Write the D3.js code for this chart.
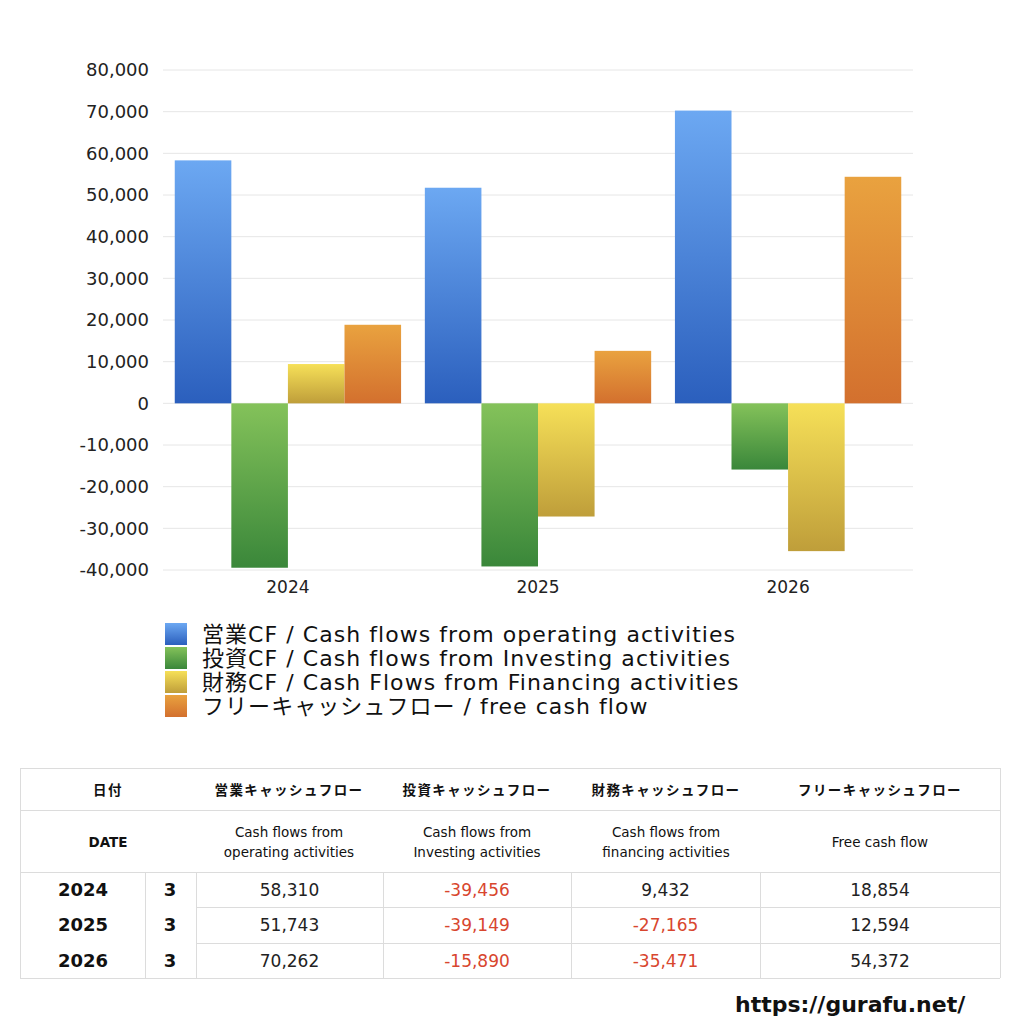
<!DOCTYPE html>
<html>
<head>
<meta charset="utf-8">
<script src="https://cdn.jsdelivr.net/npm/d3@7"></script>
<style>
  body { margin: 0; background: #fff; }
  svg { display: block; font-family: "DejaVu Sans", "Noto Sans CJK JP", sans-serif; }
</style>
</head>
<body>
<svg id="chart" width="1024" height="1024"></svg>
<script>
// data
const years = ['2024', '2025', '2026']
const months = ['3', '3', '3']
const seriesKeys = ['operating', 'investing', 'financing', 'free']
const operating = [58310, 51743, 70262]
const investing = [-39456, -39149, -15890]
const financing = [9432, -27165, -35471]
const freeCash = [18854, 12594, 54372]
const yTicks = [80000, 70000, 60000, 50000, 40000, 30000, 20000, 10000, 0, -10000, -20000, -30000, -40000]
const legendLabels = [
  '営業CF / Cash flows from operating activities',
  '投資CF / Cash flows from Investing activities',
  '財務CF / Cash Flows from Financing activities',
  'フリーキャッシュフロー / free cash flow',
]
const headJa = ['日付', '営業キャッシュフロー', '投資キャッシュフロー', '財務キャッシュフロー', 'フリーキャッシュフロー']
const headEn = [['DATE'], ['Cash flows from', 'operating activities'], ['Cash flows from', 'Investing activities'], ['Cash flows from', 'financing activities'], ['Free cash flow']]

const seriesValues = [operating, investing, financing, freeCash]
const gradColors = [
  ['#6ca8f2', '#2b5fbd'],
  ['#84c25a', '#3a873a'],
  ['#f6e058', '#bf9e3a'],
  ['#e9a23f', '#d3702e'],
]

const width = 1024
const margin = { top: 70, left: 163, right: 111 }
const plotW = width - margin.left - margin.right
const plotH = 500

const svg = d3.select('#chart')
const fmt = v => d3.format(',')(v).replace('\u2212', '-')

// gradients
const defs = svg.append('defs')
seriesKeys.forEach((k, i) => {
  const g = defs.append('linearGradient')
    .attr('id', 'grad-' + k)
    .attr('x1', 0).attr('y1', 0).attr('x2', 0).attr('y2', 1)
  g.append('stop').attr('offset', '0%').attr('stop-color', gradColors[i][0])
  g.append('stop').attr('offset', '100%').attr('stop-color', gradColors[i][1])
})

const viz = svg.append('g').attr('transform', `translate(${margin.left},${margin.top})`)

const y = d3.scaleLinear().domain([-40000, 80000]).range([plotH, 0])
const x0 = d3.scaleBand().domain(years).range([0, plotW]).paddingInner(0.095).paddingOuter(0.047)
const x1 = d3.scaleBand().domain(seriesKeys).range([0, x0.bandwidth()])

// grid
viz.append('g').attr('id', 'grid')
  .selectAll('line').data(yTicks).join('line')
  .attr('x1', 0).attr('x2', plotW)
  .attr('y1', d => y(d)).attr('y2', d => y(d))
  .attr('stroke', '#e6e6e6').attr('stroke-width', 1)

// y axis
const yAxis = viz.append('g')
  .attr('transform', 'translate(-14,0)')
  .call(d3.axisLeft(y).tickValues(yTicks).tickSize(0).tickPadding(0).tickFormat(fmt))
yAxis.select('.domain').remove()
yAxis.selectAll('text').attr('font-size', 18).attr('fill', '#222')
  .attr('font-family', '"DejaVu Sans", sans-serif')

// bars
const groups = viz.append('g').attr('id', 'bars')
  .selectAll('g').data(years).join('g')
  .attr('transform', d => `translate(${x0(d)},0)`)
groups.selectAll('rect')
  .data((d, i) => seriesKeys.map((k, j) => ({ key: k, value: seriesValues[j][i] })))
  .join('rect')
  .attr('x', d => x1(d.key))
  .attr('width', x1.bandwidth())
  .attr('y', d => y(Math.max(0, d.value)))
  .attr('height', d => Math.abs(y(d.value) - y(0)))
  .attr('fill', d => `url(#grad-${d.key})`)

// x axis labels
const xAxis = viz.append('g')
  .attr('transform', `translate(0,${plotH + 8})`)
  .call(d3.axisBottom(x0).tickSize(0))
xAxis.select('.domain').remove()
xAxis.selectAll('text').attr('font-size', 17).attr('fill', '#222')
  .attr('font-family', '"DejaVu Sans", sans-serif')

// legend
const legend = svg.append('g').attr('id', 'legend').attr('transform', 'translate(165,623)')
const li = legend.selectAll('g').data(legendLabels).join('g')
  .attr('transform', (d, i) => `translate(0,${i * 24})`)
li.append('rect').attr('width', 22).attr('height', 22)
  .attr('fill', (d, i) => `url(#grad-${seriesKeys[i]})`)
li.append('text').attr('x', 37).attr('y', 11).attr('dy', '0.36em')
  .attr('font-size', 22).attr('letter-spacing', 1.05).attr('fill', '#111').text(d => d)

// table
const table = svg.append('g').attr('id', 'table')
const tLeft = 20, tRight = 1000
const colEdges = [20, 145, 196, 383, 571, 760, 1000]
const rowEdges = [768, 810, 872, 907, 943, 978]
const lineColor = '#dcdcdc'

const hLines = [
  [tLeft, rowEdges[0]], [tLeft, rowEdges[1]], [tLeft, rowEdges[2]],
  [colEdges[2], rowEdges[3]], [colEdges[2], rowEdges[4]], [tLeft, rowEdges[5]],
]
table.selectAll('line.h').data(hLines).join('line').attr('class', 'h')
  .attr('x1', d => d[0]).attr('x2', tRight)
  .attr('y1', d => d[1] + 0.5).attr('y2', d => d[1] + 0.5).attr('stroke', lineColor)
// outer verticals
table.selectAll('line.outer').data([tLeft, tRight]).join('line').attr('class', 'outer')
  .attr('x1', d => d + 0.5).attr('x2', d => d + 0.5)
  .attr('y1', rowEdges[0]).attr('y2', rowEdges[5]).attr('stroke', lineColor)
// inner verticals in body
table.selectAll('line.inner').data(colEdges.slice(1, -1)).join('line').attr('class', 'inner')
  .attr('x1', d => d + 0.5).attr('x2', d => d + 0.5)
  .attr('y1', rowEdges[2]).attr('y2', rowEdges[5]).attr('stroke', lineColor)

const headCenters = [108, 289, 477, 666, 880]
table.selectAll('text.hja').data(headJa).join('text').attr('class', 'hja')
  .attr('x', (d, i) => headCenters[i]).attr('y', 790).attr('dy', '0.36em')
  .attr('text-anchor', 'middle').attr('font-size', 13.5).attr('font-weight', 'bold')
  .attr('letter-spacing', 1.4)
  .attr('font-family', '"Noto Sans CJK JP", sans-serif')
  .attr('fill', '#111').text(d => d)
table.selectAll('text.hen').data(headEn).join('text').attr('class', 'hen')
  .attr('x', (d, i) => headCenters[i])
  .attr('text-anchor', 'middle').attr('font-size', 13.5)
  .attr('font-weight', (d, i) => i === 0 ? 'bold' : 'normal')
  .attr('fill', '#111')
  .each(function (d, i) {
    const t = d3.select(this)
    const y0 = d.length === 1 ? 842 : 832
    d.forEach((line, k) => {
      t.append('tspan').attr('x', headCenters[i]).attr('y', y0 + k * 20).attr('dy', '0.36em').text(line)
    })
  })

const rowCenters = [889.5, 925, 960.5]
years.forEach((yr, i) => {
  table.append('text').attr('x', 83).attr('y', rowCenters[i]).attr('dy', '0.36em')
    .attr('text-anchor', 'middle').attr('font-size', 18).attr('font-weight', 'bold')
    .attr('fill', '#111').text(yr)
  table.append('text').attr('x', 170).attr('y', rowCenters[i]).attr('dy', '0.36em')
    .attr('text-anchor', 'middle').attr('font-size', 18).attr('font-weight', 'bold')
    .attr('fill', '#111').text(months[i])
  seriesValues.forEach((vals, j) => {
    const v = vals[i]
    const cx = (colEdges[j + 2] + colEdges[j + 3]) / 2
    table.append('text').attr('x', cx).attr('y', rowCenters[i]).attr('dy', '0.36em')
      .attr('text-anchor', 'middle').attr('font-size', 17)
      .attr('fill', v < 0 ? '#d8462e' : '#222').text(fmt(v))
  })
})

// credit
svg.append('text').attr('x', 735).attr('y', 1004).attr('dy', '0.36em')
  .attr('font-size', 22).attr('font-weight', 'bold').attr('fill', '#111')
  .text('https://gurafu.net/')
</script>
</body>
</html>
